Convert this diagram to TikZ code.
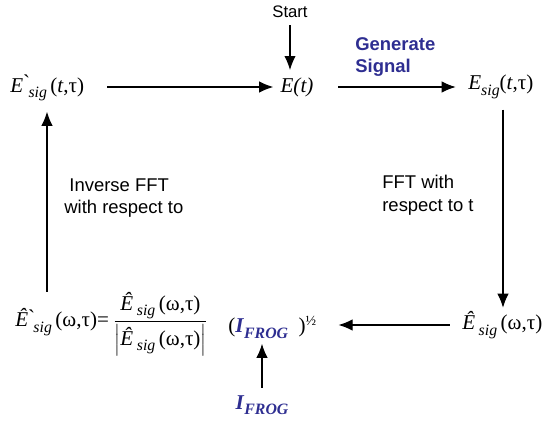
\documentclass[tikz,border=0pt]{standalone}
\usepackage{fontspec}
\setmainfont{Liberation Serif}
\setsansfont{Liberation Sans}
\usetikzlibrary{arrows.meta}
\definecolor{frogblue}{RGB}{46,46,145}

% pieces of the formulas
\newcommand{\sbs}[1]{\raisebox{-0.55ex}{\fontsize{9}{10}\selectfont #1}}
\newcommand{\Esg}{\textit{E}\sbs{\textit{sig}}}
\newcommand{\Ehs}{\textit{\^{E}}\,\sbs{\textit{sig}}}
\newcommand{\grv}{\rlap{\raisebox{0.25ex}{\textasciigrave}}}
\newcommand{\Ifrog}{\textcolor{frogblue}{\textbf{\textit{I}}\sbs{\textbf{\textit{FROG}}}}}

\begin{document}
\begin{tikzpicture}[
    x=0.02cm, y=-0.02cm,
    % Styles
    flow/.style={-{Latex[length=8pt,width=6.5pt]}, line width=0.65pt},
    formula/.style={font=\fontsize{12}{14}\selectfont, inner sep=0pt},
    note/.style={font=\sffamily\fontsize{10.5}{13}\selectfont, align=left, inner sep=0pt},
    blue_note/.style={note, font=\sffamily\bfseries\fontsize{10.5}{13}\selectfont, text=frogblue}
]
    \useasboundingbox (0,0) rectangle (545,423);

    % ==========================================
    % NODES
    % ==========================================
    \node[note, font=\sffamily\fontsize{9.5}{11}\selectfont] (start) at (290,12) {Start};
    \node[formula] (Et) at (297,87) {\textit{E(t)}};
    \node[formula, anchor=west] (Eback) at (10,88) {\textit{E}\grv\ \sbs{\textit{sig}}\,(\textit{t},τ)};
    \node[formula, anchor=west] (Esig) at (468,87) {\Esg(\textit{t},τ)};
    \node[formula, anchor=west] (Ehat) at (462,325) {\Ehs\,(ω,τ)};

    \node[formula, anchor=west] (update) at (15,324)
        {\textit{\^{E}}\grv\ \sbs{\textit{sig}}\,(ω,τ)=\,%
         $\displaystyle\frac{\mbox{\Ehs\,(ω,τ)}}{\left|\mbox{\Ehs\,(ω,τ)}\right|}$};
    \node[formula, anchor=west] (power) at (228,327) {(\Ifrog\ \ )$^{\mbox{\fontsize{8}{9}\selectfont ½}}$};
    \node[formula] (measured) at (262,405) {\Ifrog};

    \node[blue_note, anchor=west] (gen) at (355,57) {Generate\\Signal};
    \node[note, anchor=north west] (ifft) at (64,178) {\ Inverse FFT\\with respect to};
    \node[note, anchor=north west] (fft) at (382,175) {FFT with\\respect to t};

    % ==========================================
    % CONNECTORS
    % ==========================================
    \draw[flow, shorten <=4pt, shorten >=4pt] (start) -- (start |- Et.north);
    \draw[flow, shorten <=13pt, shorten >=4pt] (Eback.east |- Et) -- (Et.west);
    \draw[flow, shorten <=14pt, shorten >=7pt] (Et) -- (Esig.west |- Et);
    \draw[flow, shorten <=6pt, shorten >=2pt] (Esig.south -| 503,0) -- (Ehat.north -| 503,0);
    \draw[flow, shorten <=7pt, shorten >=12pt] (Ehat.west) -- (power.east |- Ehat.west);
    \draw[flow, shorten <=4pt, shorten >=3pt] (measured.north) -- (measured.north |- power.south);
    \draw[flow, shorten >=6pt] (update.north -| 47,0) -- (Eback.south -| 47,0);

\end{tikzpicture}
\end{document}
